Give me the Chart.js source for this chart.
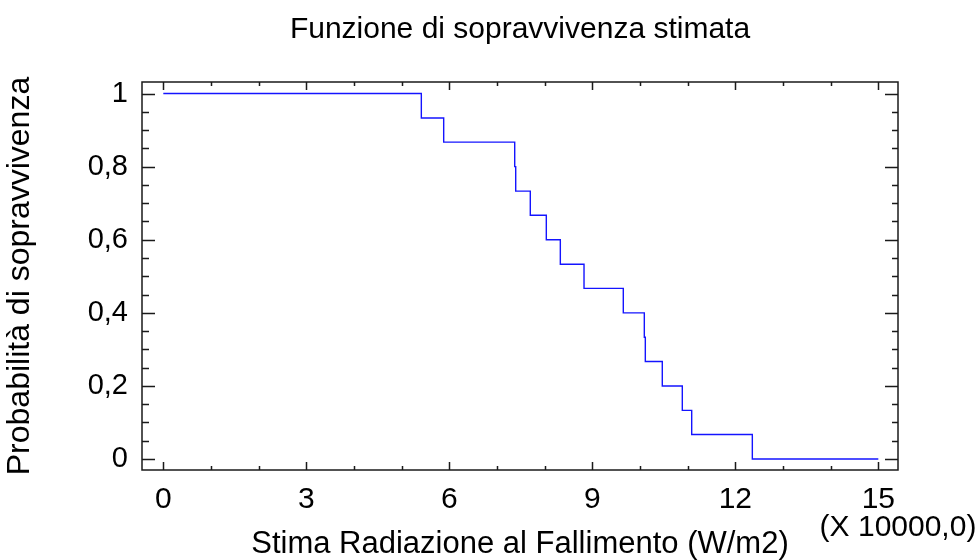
<!DOCTYPE html>
<html>
<head>
<meta charset="utf-8">
<title>Funzione di sopravvivenza stimata</title>
<script src="https://cdn.jsdelivr.net/npm/chart.js@4.4.1/dist/chart.umd.min.js"></script>
<style>
  html, body { margin: 0; padding: 0; background: #fff; }
  canvas { display: block; }
</style>
</head>
<body>
<canvas id="survival" width="980" height="560"></canvas>
<script>
'use strict';

// Kaplan-Meier estimate: failure radiation (x 10000 W/m2) and survival after each failure
var failureTimes = [0, 5.413, 5.882, 7.372, 7.393, 7.699, 8.035, 8.329, 8.826,
  9.650, 10.091, 10.112, 10.468, 10.888, 11.085, 12.357, 15];
var survival = [1, 0.933, 0.867, 0.8, 0.733, 0.667, 0.6, 0.533, 0.467,
  0.4, 0.333, 0.267, 0.2, 0.133, 0.067, 0, 0];

var xTickValues = [0, 3, 6, 9, 12, 15];
var yTickValues = [0, 0.2, 0.4, 0.6, 0.8, 1];
var xMinorStep = 1;
var yMinorStep = 0.05;

var chartTitle = 'Funzione di sopravvivenza stimata';
var xTitle = 'Stima Radiazione al Fallimento (W/m2)';
var yTitle = 'Probabilità di sopravvivenza';
var xMultiplier = '(X 10000,0)';

Chart.defaults.font.family = "'Liberation Sans', Arial, sans-serif";
Chart.defaults.color = '#000';

var points = failureTimes.map(function(t, i) {
  return { x: t, y: survival[i] };
});

function toComma(v) {
  return String(Math.round(v * 100) / 100).replace('.', ',');
}

function minorValues(min, max, step) {
  var out = [];
  for (var v = Math.ceil(min / step) * step; v <= max + 1e-9; v += step) {
    out.push(Math.round(v * 1000) / 1000);
  }
  return out;
}

// frame around the plot with inward ticks on all four sides
var framePlugin = {
  id: 'frame',
  afterDraw: function(chart) {
    var ctx = chart.ctx;
    var a = chart.chartArea;
    var xs = chart.scales.x;
    var ys = chart.scales.y;

    ctx.save();
    ctx.strokeStyle = '#1a1a1a';
    ctx.lineWidth = 1.5;
    ctx.strokeRect(a.left, a.top, a.right - a.left, a.bottom - a.top);

    ctx.beginPath();
    minorValues(0, 15, xMinorStep).forEach(function(v) {
      var px = Math.round(xs.getPixelForValue(v)) + 0.5;
      var len = xTickValues.indexOf(v) >= 0 ? 8 : 4;
      ctx.moveTo(px, a.bottom);
      ctx.lineTo(px, a.bottom - len);
      ctx.moveTo(px, a.top);
      ctx.lineTo(px, a.top + len);
    });
    minorValues(0, 1, yMinorStep).forEach(function(v) {
      var py = Math.round(ys.getPixelForValue(v)) + 0.5;
      var major = yTickValues.some(function(t) { return Math.abs(t - v) < 1e-6; });
      ctx.moveTo(a.left, py);
      ctx.lineTo(a.left + (major ? 13 : 7), py);
      ctx.moveTo(a.right, py);
      ctx.lineTo(a.right - (major ? 13 : 6), py);
    });
    ctx.stroke();

    ctx.fillStyle = '#000';
    ctx.font = "30px 'Liberation Sans', Arial, sans-serif";
    ctx.textAlign = 'center';
    ctx.textBaseline = 'alphabetic';
    ctx.fillText(xMultiplier, a.right, 536);
    ctx.restore();
  }
};

new Chart(document.getElementById('survival'), {
  type: 'line',
  data: {
    datasets: [{
      data: points,
      stepped: true,
      borderColor: '#1414ff',
      borderWidth: 1.4,
      pointRadius: 0,
      fill: false
    }]
  },
  options: {
    responsive: false,
    animation: false,
    devicePixelRatio: 1,
    layout: { padding: { left: 0, right: 82, top: 0, bottom: 0 } },
    plugins: {
      legend: { display: false },
      tooltip: { enabled: false },
      title: {
        display: true,
        fullSize: false,
        text: chartTitle,
        color: '#000',
        font: { size: 30, weight: 'normal' },
        padding: { top: 12, bottom: 34 }
      }
    },
    scales: {
      x: {
        type: 'linear',
        min: -0.447,
        max: 15.413,
        grid: { display: false, drawTicks: false },
        border: { display: false },
        afterBuildTicks: function(scale) {
          scale.ticks = xTickValues.map(function(v) { return { value: v }; });
        },
        afterFit: function(scale) { scale.height = 90; },
        ticks: {
          autoSkip: false,
          maxRotation: 0,
          padding: 12,
          font: { size: 30 },
          color: '#000',
          callback: function(v) { return toComma(v); }
        },
        title: {
          display: true,
          text: xTitle,
          color: '#000',
          font: { size: 31, lineHeight: 1 },
          padding: { top: 0, bottom: 0 }
        }
      },
      y: {
        type: 'linear',
        min: -0.030,
        max: 1.0315,
        grid: { display: false, drawTicks: false },
        border: { display: false },
        afterBuildTicks: function(scale) {
          scale.ticks = yTickValues.map(function(v) { return { value: v }; });
        },
        afterFit: function(scale) { scale.width = 142; },
        ticks: {
          padding: 14,
          font: { size: 29 },
          color: '#000',
          callback: function(v) { return toComma(v); }
        },
        title: {
          display: true,
          text: yTitle,
          color: '#000',
          font: { size: 32, lineHeight: 1 },
          padding: { top: 4, bottom: 0 }
        }
      }
    }
  },
  plugins: [framePlugin]
});
</script>
</body>
</html>
